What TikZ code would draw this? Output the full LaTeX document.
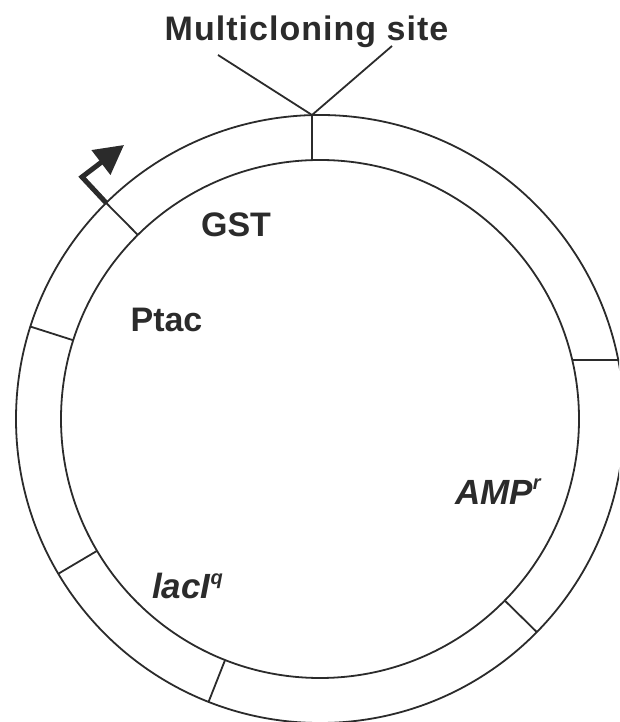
\documentclass[tikz,border=0pt]{standalone}
\usepackage{fontspec}
\setmainfont{Liberation Sans}
\usetikzlibrary{arrows.meta,calc}
\definecolor{ink}{gray}{0.17}
\begin{document}
\begin{tikzpicture}[x=1pt,y=1pt,
  ring/.style={draw=ink,line width=1.8pt},
  tick/.style={draw=ink,line width=1.8pt},
  lbl/.style={text=ink,inner sep=0pt,font=\fontsize{34}{34}\selectfont\bfseries},
  ilbl/.style={lbl,font=\fontsize{35}{35}\selectfont\bfseries\itshape},
  promoter/.style={draw=ink,line width=5pt,line join=miter,
    -{Triangle[width=30pt,length=29pt]}}]
\useasboundingbox (0,0) rectangle (619,722);
\clip (0,0) rectangle (619,722);
\def\rin{259}
\def\rout{304}
\coordinate (c) at (320,303);
% plasmid ring
\draw[ring] (c) circle[radius=\rout];
\draw[ring] (c) circle[radius=\rin];
% segment boundaries
\foreach \a/\n in {134.7/pt,162.3/b2,210.6/b3,248.5/b4,315.5/b5}{
  \coordinate (i\n) at ($(c)+(\a:\rin)$);
  \coordinate (o\n) at ($(c)+(\a:\rout)$);
  \draw[tick] (i\n) -- (o\n);
}
\coordinate (ir) at (573,362);
\coordinate (or) at (619,362);
\draw[tick] (ir) -- (or);
% multicloning site
\coordinate (mtop) at (312,607);
\coordinate (mbot) at (312,562);
\coordinate (mleft) at (218,667);
\coordinate (mright) at (392,676);
\draw[tick] (mbot) -- (mtop);
\draw[tick] (mleft) -- (mtop) -- (mright);
% promoter arrow
\coordinate (pcorner) at (82,545);
\coordinate (ptip) at (124,577);
\draw[promoter] (opt) -- (pcorner) -- (ptip);
% labels
\node[lbl,anchor=base] (mcs) at (306.5,681) {\addfontfeature{LetterSpace=3}Multicloning site};
\node[lbl,anchor=base] (gst) at (236,485) {GST};
\node[lbl,anchor=base] (ptac) at (166.5,390) {Ptac};
\node[ilbl,anchor=base west] (amp) at (455,217) {AMP\raisebox{15pt}{\fontsize{20}{20}\selectfont r}};
\node[ilbl,anchor=base west] (lac) at (152,123) {lacI\raisebox{14pt}{\fontsize{20}{20}\selectfont q}};
\end{tikzpicture}
\end{document}
